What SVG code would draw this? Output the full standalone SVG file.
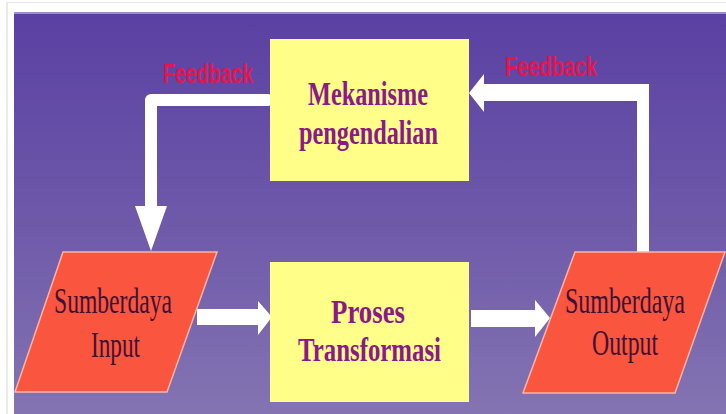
<svg xmlns="http://www.w3.org/2000/svg" width="726" height="414" viewBox="0 0 726 414">
<defs>
<linearGradient id="bg" x1="0" y1="0" x2="0" y2="1">
<stop offset="0" stop-color="#5a40a3"/>
<stop offset="0.5" stop-color="#6d58a9"/>
<stop offset="1" stop-color="#8474b2"/>
</linearGradient>
<style>
.yel{fill:#fefe88;}
.par{fill:#f9553f;stroke:#ffb4a4;stroke-width:1.5;}
.btxt{font-family:"Liberation Serif","Times New Roman",serif;font-weight:bold;font-size:33px;fill:#8a1a88;}
.ptxt{font-family:"Liberation Serif","Times New Roman",serif;font-size:35px;fill:#3e1234;}
.fb{font-family:"Liberation Sans",Arial,sans-serif;font-weight:bold;font-size:28px;fill:#e2174f;}
.wh{fill:#ffffff;}
.wl{fill:none;stroke:#ffffff;stroke-width:12;}
</style>
</defs>
<rect x="0" y="0" width="726" height="414" fill="#ffffff"/>
<line x1="7" y1="2" x2="7" y2="414" stroke="#d8d8d8" stroke-width="1"/>
<line x1="7" y1="2.5" x2="726" y2="2.5" stroke="#e4e4e4" stroke-width="1"/>
<rect x="14" y="12" width="712" height="402" fill="url(#bg)"/>
<rect x="14" y="12" width="712" height="2" fill="#9c8cd0"/>

<g id="connectors">
<path class="wl" d="M268,100 H151 V208" stroke-linecap="round" stroke-linejoin="round"/>
<polygon class="wh" points="135,206 167,206 151,251"/>
<polygon class="wh" points="469,93 484,74 484,84 649,84 649,252 637,252 637,101 484,101 484,112"/>
<polygon class="wh" points="197,309 258,309 258,301 272,317 258,335 258,325 197,325"/>
<polygon class="wh" points="471,310 535,310 535,300 550,318 535,337 535,327 471,327"/>
<text class="fb" x="163" y="83" textLength="90" lengthAdjust="spacingAndGlyphs">Feedback</text>
<text class="fb" x="505" y="76" textLength="92" lengthAdjust="spacingAndGlyphs">Feedback</text>
</g>

<g id="mekanisme">
<rect class="yel" x="270" y="39" width="199" height="142"/>
<text class="btxt" x="308" y="105" textLength="120" lengthAdjust="spacingAndGlyphs">Mekanisme</text>
<text class="btxt" x="299" y="144" textLength="139" lengthAdjust="spacingAndGlyphs">pengendalian</text>
</g>

<g id="proses">
<rect class="yel" x="270" y="262" width="199" height="140"/>
<text class="btxt" x="331" y="323" textLength="74" lengthAdjust="spacingAndGlyphs">Proses</text>
<text class="btxt" x="298" y="361" textLength="143" lengthAdjust="spacingAndGlyphs">Transformasi</text>
</g>

<g id="input">
<polygon class="par" points="63,252 217,252 167,392 15,392"/>
<text class="ptxt" x="54" y="313" textLength="118" lengthAdjust="spacingAndGlyphs">Sumberdaya</text>
<text class="ptxt" x="91" y="357" textLength="49" lengthAdjust="spacingAndGlyphs">Input</text>
</g>

<g id="output">
<polygon class="par" points="575,252 725,252 675,393 523,393"/>
<text class="ptxt" x="565" y="313" textLength="120" lengthAdjust="spacingAndGlyphs">Sumberdaya</text>
<text class="ptxt" x="592" y="355" textLength="66" lengthAdjust="spacingAndGlyphs">Output</text>
</g>
</svg>
